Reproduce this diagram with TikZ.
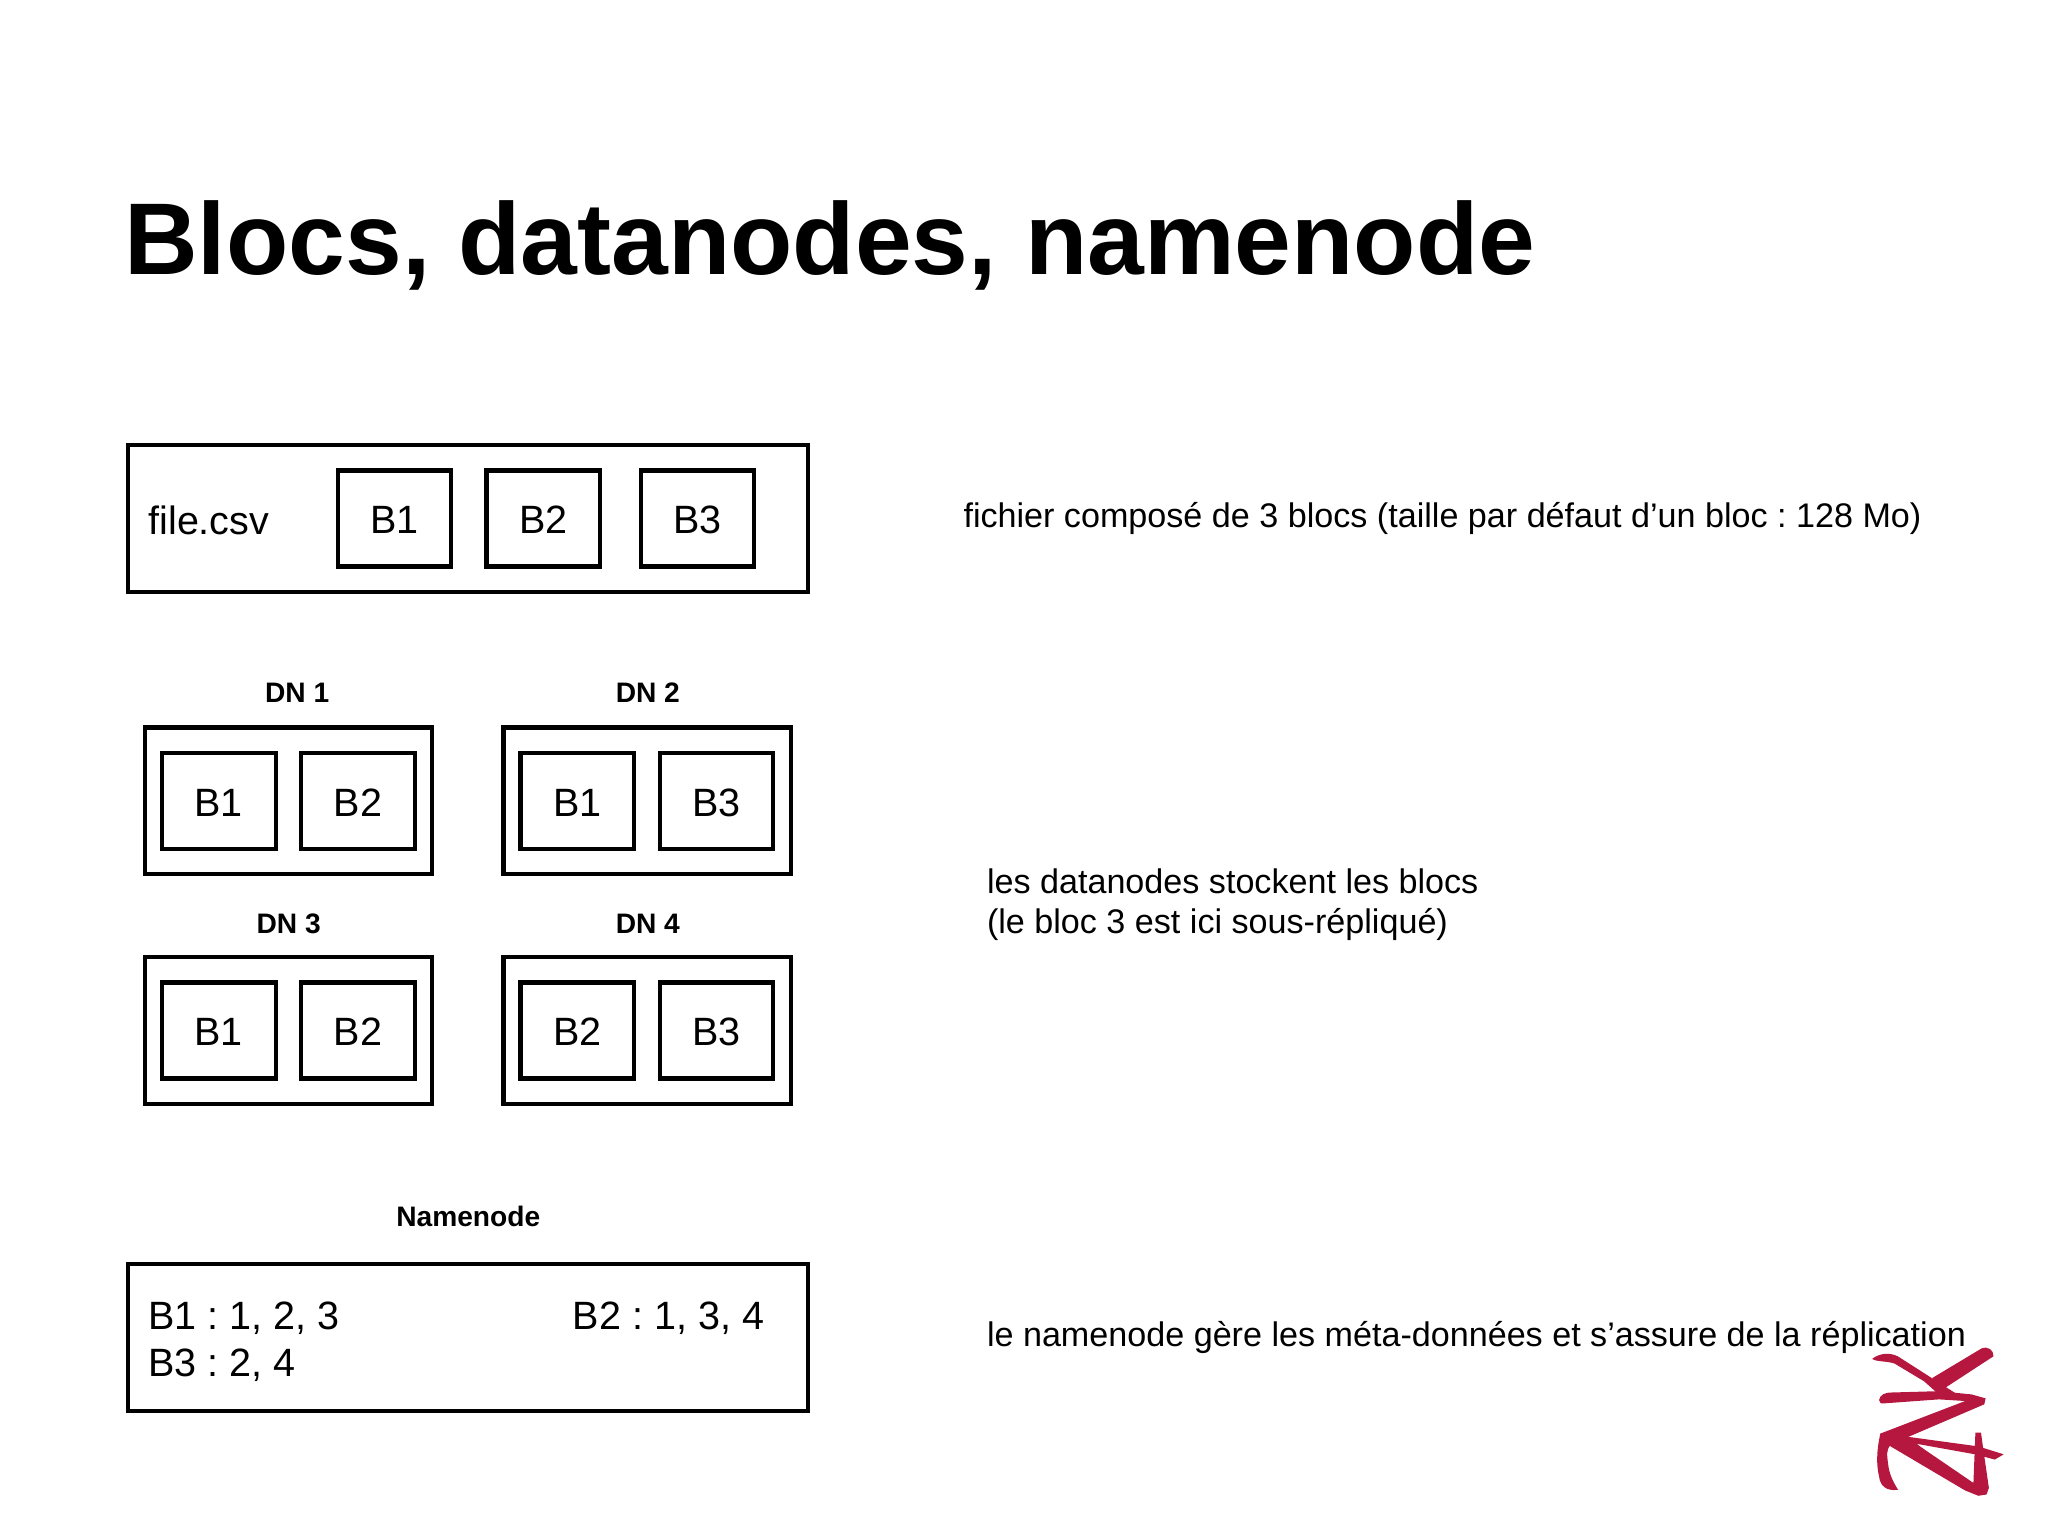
\documentclass[tikz,border=0pt]{standalone}
\usepackage{fontspec}
\setmainfont{Liberation Sans}
\frenchspacing
\definecolor{logored}{HTML}{B5173F}
\tikzset{
 x=0.01cm,y=-0.01cm,
 frame/.style={draw=black,line width=0.9pt,inner sep=0pt,outer sep=0pt,rectangle},
 blk/.style={frame,font=\fontsize{8.6pt}{10pt}\selectfont,text height=6.7pt,text depth=0pt,minimum width=87*0.01cm,minimum height=73.5*0.01cm},
 note/.style={inner sep=0pt,anchor=base west,font=\fontsize{7.43pt}{8.9pt}\selectfont},
 dn/.style={inner sep=0pt,anchor=base,font=\fontsize{6.13pt}{7pt}\selectfont\bfseries},
 lab/.style={inner sep=0pt,anchor=base west,font=\fontsize{8.6pt}{10.2pt}\selectfont},
 logo/.style={fill=logored,draw=none},
}
\begin{document}
\begin{tikzpicture}
\useasboundingbox (0,0) rectangle (1568,1176);
\node[inner sep=0pt,anchor=base west,font=\fontsize{22.2pt}{26pt}\selectfont\bfseries] (title) at (94.5,210) {Blocs, datanodes, namenode};
% file
\node[frame,minimum width=520.5*0.01cm,minimum height=112*0.01cm] (file) at (358.5,397) {};
\node[lab] (fname) at (113,409) {file.csv};
\node[blk] (fb1) at (302,397) {B1};
\node[blk] (fb2) at (416,397) {B2};
\node[blk] (fb3) at (534,397) {B3};
\node[note] (n1) at (737,404) {fichier composé de 3 blocs (taille par défaut d’un bloc : 128 Mo)};
% datanodes
\foreach \nm/\cx/\cy/\lx/\ly/\lab/\bl/\br in {
  a/221/613/227.5/538/DN 1/B1/B2,
  b/495.5/613/496/538/DN 2/B1/B3,
  c/221/789/221/715/DN 3/B1/B2,
  d/495.5/789/496/715/DN 4/B2/B3}{
  \node[frame,minimum width=220*0.01cm,minimum height=112*0.01cm] (dn\nm) at (\cx,\cy) {};
  \node[blk] (dn\nm l) at (\cx-53.5,\cy) {\bl};
  \node[blk] (dn\nm r) at (\cx+53,\cy) {\br};
  \node[dn] (dn\nm t) at (\lx,\ly) {\lab};
}
\node[note] (n2a) at (755,684) {les datanodes stockent les blocs};
\node[note] (n2b) at (755,715) {(le bloc 3 est ici sous-répliqué)};
% namenode
\node[dn] (nnt) at (358.5,939) {Namenode};
\node[frame,minimum width=520.5*0.01cm,minimum height=112*0.01cm] (nn) at (358.5,1024) {};
\node[lab] (nn1) at (113,1018) {B1 : 1, 2, 3};
\node[lab] (nn3) at (113,1054) {B3 : 2, 4};
\node[lab] (nn2) at (438,1018) {B2 : 1, 3, 4};
\node[note] (n3) at (755,1031) {le namenode gère les méta-données et s’assure de la réplication};
% logo
\begin{scope}[shift={(1408.9,1010.7)},x=0.00252cm,y=-0.00252cm]
\fill[logo] (97,118) .. controls (120,100) and (150,98) .. (175,110) -- (350,222) -- (300,226) -- (255,186) -- (165,132) .. controls (140,124) and (110,127) .. (97,118) -- cycle;
\fill[logo] (280,176) -- (430,86) .. controls (445,78) and (468,90) .. (466,110) -- (322,204) -- (300,216) -- cycle;
\fill[logo] (118,243) .. controls (122,226) and (135,220) .. (160,220) -- (300,216) -- (400,226) -- (442,238) -- (438,256) -- (200,358) -- (135,368) -- (122,345) -- (380,246) -- (300,241) -- (135,253) .. controls (125,255) and (118,252) .. (118,243) -- cycle;
\fill[logo] (122,345) .. controls (110,400) and (110,440) .. (118,475) .. controls (122,505) and (140,520) .. (176,516) .. controls (160,490) and (150,470) .. (146,440) .. controls (142,410) and (140,395) .. (152,380) -- (180,345) -- cycle;
\fill[logo] (130,345) -- (200,354) -- (420,384) -- (497,408) -- (470,424) -- (410,408) -- (232,376) -- (260,396) -- (405,495) -- (411,342) -- (428,342) -- (436,400) -- (452,510) -- (445,530) -- (420,534) -- (380,518) -- (150,382) -- cycle;
\end{scope}
\end{tikzpicture}
\end{document}
